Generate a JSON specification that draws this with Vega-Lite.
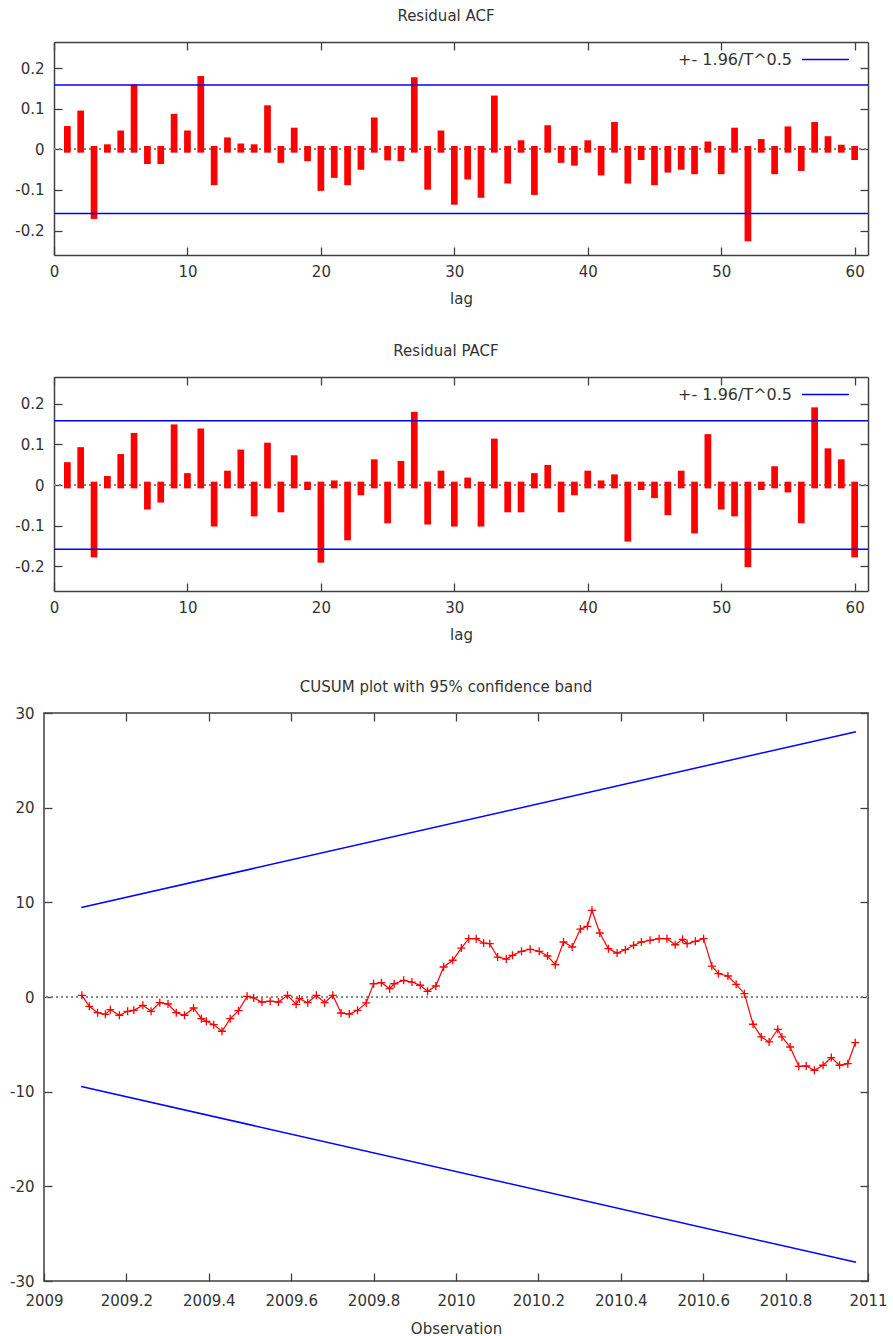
{
  "$schema": "https://vega.github.io/schema/vega-lite/v6.json",
  "background": "white",
  "padding": {"left": 8, "top": 9, "right": 0, "bottom": 0},
  "config": {
    "font": "DejaVu Sans",
    "view": {"stroke": "#404040", "strokeWidth": 1.5},
    "axis": {
      "grid": false, "domain": false,
      "domainColor": "#404040", "domainWidth": 1.5,
      "labelFont": "DejaVu Sans", "labelFontSize": 15, "labelColor": "#333",
      "titleFont": "DejaVu Sans", "titleFontSize": 15, "titleFontWeight": "normal", "titleColor": "#333",
      "tickColor": "#404040", "tickWidth": 1.3, "tickSize": -8,
      "labelPadding": 18, "titlePadding": 12,
      "labelFlush": false, "labelOverlap": false
    },
    "axisX": {"labelPadding": 17},
    "title": {"font": "DejaVu Sans", "fontSize": 15, "fontWeight": "normal", "color": "#333", "offset": 11, "baseline": "alphabetic", "dx": -10}
  },
  "datasets": {
    "corr": [
      {"lag": 1, "acf": 0.049, "pacf": 0.048},
      {"lag": 2, "acf": 0.087, "pacf": 0.085},
      {"lag": 3, "acf": -0.163, "pacf": -0.170},
      {"lag": 4, "acf": 0.004, "pacf": 0.014},
      {"lag": 5, "acf": 0.038, "pacf": 0.068},
      {"lag": 6, "acf": 0.151, "pacf": 0.120},
      {"lag": 7, "acf": -0.028, "pacf": -0.052},
      {"lag": 8, "acf": -0.028, "pacf": -0.035},
      {"lag": 9, "acf": 0.079, "pacf": 0.141},
      {"lag": 10, "acf": 0.038, "pacf": 0.021},
      {"lag": 11, "acf": 0.172, "pacf": 0.131},
      {"lag": 12, "acf": -0.080, "pacf": -0.094},
      {"lag": 13, "acf": 0.021, "pacf": 0.027},
      {"lag": 14, "acf": 0.006, "pacf": 0.079},
      {"lag": 15, "acf": 0.004, "pacf": -0.069},
      {"lag": 16, "acf": 0.100, "pacf": 0.096},
      {"lag": 17, "acf": -0.025, "pacf": -0.059},
      {"lag": 18, "acf": 0.045, "pacf": 0.065},
      {"lag": 19, "acf": -0.021, "pacf": -0.004},
      {"lag": 20, "acf": -0.094, "pacf": -0.183},
      {"lag": 21, "acf": -0.062, "pacf": 0.003},
      {"lag": 22, "acf": -0.080, "pacf": -0.128},
      {"lag": 23, "acf": -0.042, "pacf": -0.017},
      {"lag": 24, "acf": 0.070, "pacf": 0.055},
      {"lag": 25, "acf": -0.019, "pacf": -0.086},
      {"lag": 26, "acf": -0.021, "pacf": 0.051},
      {"lag": 27, "acf": 0.169, "pacf": 0.172},
      {"lag": 28, "acf": -0.091, "pacf": -0.089},
      {"lag": 29, "acf": 0.038, "pacf": 0.027},
      {"lag": 30, "acf": -0.128, "pacf": -0.094},
      {"lag": 31, "acf": -0.066, "pacf": 0.010},
      {"lag": 32, "acf": -0.111, "pacf": -0.094},
      {"lag": 33, "acf": 0.124, "pacf": 0.106},
      {"lag": 34, "acf": -0.076, "pacf": -0.059},
      {"lag": 35, "acf": 0.014, "pacf": -0.059},
      {"lag": 36, "acf": -0.104, "pacf": 0.021},
      {"lag": 37, "acf": 0.051, "pacf": 0.041},
      {"lag": 38, "acf": -0.025, "pacf": -0.059},
      {"lag": 39, "acf": -0.032, "pacf": -0.017},
      {"lag": 40, "acf": 0.014, "pacf": 0.027},
      {"lag": 41, "acf": -0.056, "pacf": 0.003},
      {"lag": 42, "acf": 0.059, "pacf": 0.018},
      {"lag": 43, "acf": -0.076, "pacf": -0.131},
      {"lag": 44, "acf": -0.018, "pacf": -0.004},
      {"lag": 45, "acf": -0.080, "pacf": -0.024},
      {"lag": 46, "acf": -0.049, "pacf": -0.066},
      {"lag": 47, "acf": -0.042, "pacf": 0.027},
      {"lag": 48, "acf": -0.053, "pacf": -0.111},
      {"lag": 49, "acf": 0.011, "pacf": 0.117},
      {"lag": 50, "acf": -0.053, "pacf": -0.052},
      {"lag": 51, "acf": 0.045, "pacf": -0.069},
      {"lag": 52, "acf": -0.218, "pacf": -0.194},
      {"lag": 53, "acf": 0.017, "pacf": -0.004},
      {"lag": 54, "acf": -0.053, "pacf": 0.038},
      {"lag": 55, "acf": 0.048, "pacf": -0.010},
      {"lag": 56, "acf": -0.045, "pacf": -0.086},
      {"lag": 57, "acf": 0.059, "pacf": 0.183},
      {"lag": 58, "acf": 0.024, "pacf": 0.082},
      {"lag": 59, "acf": 0.003, "pacf": 0.055},
      {"lag": 60, "acf": -0.018, "pacf": -0.170}
    ],
    "bands": [
      {"bound": 0.158, "label": "+- 1.96/T^0.5"},
      {"bound": -0.158, "label": "+- 1.96/T^0.5"}
    ],
    "cusumBand": [
      {"obs": 2009.0905, "side": "upper", "bound": 9.45},
      {"obs": 2010.971, "side": "upper", "bound": 28.03},
      {"obs": 2009.0905, "side": "lower", "bound": -9.45},
      {"obs": 2010.971, "side": "lower", "bound": -28.03}
    ],
    "cusum": [
      {"obs": 2009.092, "cusum": 0.18},
      {"obs": 2009.110, "cusum": -0.98},
      {"obs": 2009.130, "cusum": -1.66},
      {"obs": 2009.149, "cusum": -1.83},
      {"obs": 2009.161, "cusum": -1.34},
      {"obs": 2009.183, "cusum": -1.93},
      {"obs": 2009.203, "cusum": -1.51},
      {"obs": 2009.218, "cusum": -1.41},
      {"obs": 2009.240, "cusum": -0.88},
      {"obs": 2009.260, "cusum": -1.51},
      {"obs": 2009.281, "cusum": -0.60},
      {"obs": 2009.301, "cusum": -0.74},
      {"obs": 2009.321, "cusum": -1.66},
      {"obs": 2009.341, "cusum": -1.93},
      {"obs": 2009.363, "cusum": -1.16},
      {"obs": 2009.382, "cusum": -2.29},
      {"obs": 2009.394, "cusum": -2.57},
      {"obs": 2009.412, "cusum": -2.92},
      {"obs": 2009.432, "cusum": -3.62},
      {"obs": 2009.452, "cusum": -2.29},
      {"obs": 2009.472, "cusum": -1.44},
      {"obs": 2009.493, "cusum": 0.07},
      {"obs": 2009.509, "cusum": -0.10},
      {"obs": 2009.529, "cusum": -0.53},
      {"obs": 2009.549, "cusum": -0.45},
      {"obs": 2009.569, "cusum": -0.53},
      {"obs": 2009.591, "cusum": 0.18},
      {"obs": 2009.612, "cusum": -0.77},
      {"obs": 2009.620, "cusum": -0.18},
      {"obs": 2009.640, "cusum": -0.60},
      {"obs": 2009.661, "cusum": 0.18},
      {"obs": 2009.681, "cusum": -0.60},
      {"obs": 2009.701, "cusum": 0.18},
      {"obs": 2009.721, "cusum": -1.69},
      {"obs": 2009.741, "cusum": -1.80},
      {"obs": 2009.761, "cusum": -1.41},
      {"obs": 2009.782, "cusum": -0.63},
      {"obs": 2009.800, "cusum": 1.40},
      {"obs": 2009.819, "cusum": 1.51},
      {"obs": 2009.839, "cusum": 0.88},
      {"obs": 2009.850, "cusum": 1.40},
      {"obs": 2009.873, "cusum": 1.76},
      {"obs": 2009.893, "cusum": 1.58},
      {"obs": 2009.913, "cusum": 1.24},
      {"obs": 2009.931, "cusum": 0.60},
      {"obs": 2009.951, "cusum": 1.16},
      {"obs": 2009.970, "cusum": 3.17},
      {"obs": 2009.992, "cusum": 3.88},
      {"obs": 2010.013, "cusum": 5.17},
      {"obs": 2010.031, "cusum": 6.16},
      {"obs": 2010.049, "cusum": 6.16},
      {"obs": 2010.067, "cusum": 5.70},
      {"obs": 2010.082, "cusum": 5.63},
      {"obs": 2010.101, "cusum": 4.22},
      {"obs": 2010.122, "cusum": 4.01},
      {"obs": 2010.137, "cusum": 4.40},
      {"obs": 2010.159, "cusum": 4.83},
      {"obs": 2010.180, "cusum": 5.04},
      {"obs": 2010.202, "cusum": 4.83},
      {"obs": 2010.222, "cusum": 4.33},
      {"obs": 2010.241, "cusum": 3.41},
      {"obs": 2010.261, "cusum": 5.81},
      {"obs": 2010.282, "cusum": 5.28},
      {"obs": 2010.302, "cusum": 7.18},
      {"obs": 2010.319, "cusum": 7.47},
      {"obs": 2010.330, "cusum": 9.16},
      {"obs": 2010.349, "cusum": 6.76},
      {"obs": 2010.370, "cusum": 5.10},
      {"obs": 2010.391, "cusum": 4.65},
      {"obs": 2010.411, "cusum": 5.00},
      {"obs": 2010.431, "cusum": 5.46},
      {"obs": 2010.450, "cusum": 5.81},
      {"obs": 2010.471, "cusum": 5.99},
      {"obs": 2010.493, "cusum": 6.16},
      {"obs": 2010.512, "cusum": 6.16},
      {"obs": 2010.532, "cusum": 5.52},
      {"obs": 2010.550, "cusum": 6.09},
      {"obs": 2010.561, "cusum": 5.63},
      {"obs": 2010.581, "cusum": 5.88},
      {"obs": 2010.601, "cusum": 6.16},
      {"obs": 2010.621, "cusum": 3.27},
      {"obs": 2010.637, "cusum": 2.46},
      {"obs": 2010.660, "cusum": 2.22},
      {"obs": 2010.680, "cusum": 1.34},
      {"obs": 2010.700, "cusum": 0.35},
      {"obs": 2010.721, "cusum": -2.88},
      {"obs": 2010.741, "cusum": -4.22},
      {"obs": 2010.760, "cusum": -4.75},
      {"obs": 2010.781, "cusum": -3.41},
      {"obs": 2010.791, "cusum": -4.22},
      {"obs": 2010.811, "cusum": -5.28},
      {"obs": 2010.832, "cusum": -7.32},
      {"obs": 2010.850, "cusum": -7.29},
      {"obs": 2010.870, "cusum": -7.74},
      {"obs": 2010.891, "cusum": -7.21},
      {"obs": 2010.911, "cusum": -6.40},
      {"obs": 2010.931, "cusum": -7.21},
      {"obs": 2010.951, "cusum": -7.04},
      {"obs": 2010.969, "cusum": -4.83}
    ]
  },
  "columns": 1,
  "align": "each",
  "center": true,
  "bounds": "flush",
  "spacing": 122,
  "resolve": {"scale": {"color": "independent"}, "legend": {"color": "independent"}},
  "concat": [
    {
      "title": "Residual ACF",
      "width": 824,
      "height": 213,
      "view": {"stroke": null},
      "data": {"name": "corr"},
      "layer": [
        {
          "mark": {"type": "rule", "color": "#888888", "strokeDash": [1.5, 3.5], "strokeWidth": 1},
          "encoding": {"x": {"datum": 0, "type": "quantitative", "axis": null}, "x2": {"datum": 61}, "y": {"datum": 0, "type": "quantitative", "axis": null}}
        },
        {
          "mark": {"type": "rule", "color": "#ff0000", "strokeWidth": 6.7, "strokeCap": "square"},
          "encoding": {
            "x": {"field": "lag", "type": "quantitative", "scale": {"domain": [0, 61], "range": [10, 824], "nice": false, "zero": false},
                  "axis": {"orient": "bottom", "domain": true, "values": [0, 10, 20, 30, 40, 50, 60], "title": "lag", "labelExpr": "'' + datum.value"}},
            "y": {"field": "acf", "type": "quantitative", "scale": {"domain": [-0.26, 0.264], "nice": false, "zero": false},
                  "axis": {"orient": "left", "offset": -10, "domain": true, "values": [-0.2, -0.1, 0, 0.1, 0.2], "title": null, "labelExpr": "'' + datum.value"}},
            "y2": {"datum": 0}
          }
        },
        {
          "data": {"name": "bands"},
          "mark": {"type": "rule", "strokeWidth": 1.5},
          "encoding": {
            "x": {"datum": 0, "type": "quantitative", "axis": null},
            "x2": {"datum": 61},
            "y": {"field": "bound", "type": "quantitative", "axis": null},
            "color": {"field": "label", "type": "nominal", "scale": {"range": ["#0000ff"]},
                      "legend": {"title": null, "orient": "none", "legendX": 757, "legendY": -7, "padding": 0, "symbolType": "stroke", "symbolSize": 2209, "symbolStrokeWidth": 1.5, "labelFontSize": 16, "labelColor": "#333", "labelAlign": "right", "labelOffset": -58}}
          }
        },
        {
          "mark": {"type": "point", "opacity": 0},
          "encoding": {
            "x": {"field": "lag", "type": "quantitative", "axis": {"orient": "top", "domain": true, "values": [0, 10, 20, 30, 40, 50, 60], "labels": false, "title": null}},
            "y": {"field": "acf", "type": "quantitative", "axis": {"orient": "right", "domain": true, "values": [-0.2, -0.1, 0, 0.1, 0.2], "labels": false, "title": null}}
          }
        }
      ],
      "resolve": {"axis": {"x": "independent", "y": "independent"}}
    },
    {
      "title": "Residual PACF",
      "width": 824,
      "height": 214,
      "view": {"stroke": null},
      "data": {"name": "corr"},
      "layer": [
        {
          "mark": {"type": "rule", "color": "#888888", "strokeDash": [1.5, 3.5], "strokeWidth": 1},
          "encoding": {"x": {"datum": 0, "type": "quantitative", "axis": null}, "x2": {"datum": 61}, "y": {"datum": 0, "type": "quantitative", "axis": null}}
        },
        {
          "mark": {"type": "rule", "color": "#ff0000", "strokeWidth": 6.7, "strokeCap": "square"},
          "encoding": {
            "x": {"field": "lag", "type": "quantitative", "scale": {"domain": [0, 61], "range": [10, 824], "nice": false, "zero": false},
                  "axis": {"orient": "bottom", "domain": true, "values": [0, 10, 20, 30, 40, 50, 60], "title": "lag", "labelExpr": "'' + datum.value"}},
            "y": {"field": "pacf", "type": "quantitative", "scale": {"domain": [-0.261, 0.266], "nice": false, "zero": false},
                  "axis": {"orient": "left", "offset": -10, "domain": true, "values": [-0.2, -0.1, 0, 0.1, 0.2], "title": null, "labelExpr": "'' + datum.value"}},
            "y2": {"datum": 0}
          }
        },
        {
          "data": {"name": "bands"},
          "mark": {"type": "rule", "strokeWidth": 1.5},
          "encoding": {
            "x": {"datum": 0, "type": "quantitative", "axis": null},
            "x2": {"datum": 61},
            "y": {"field": "bound", "type": "quantitative", "axis": null},
            "color": {"field": "label", "type": "nominal", "scale": {"range": ["#0000ff"]},
                      "legend": {"title": null, "orient": "none", "legendX": 757, "legendY": -7, "padding": 0, "symbolType": "stroke", "symbolSize": 2209, "symbolStrokeWidth": 1.5, "labelFontSize": 16, "labelColor": "#333", "labelAlign": "right", "labelOffset": -58}}
          }
        },
        {
          "mark": {"type": "point", "opacity": 0},
          "encoding": {
            "x": {"field": "lag", "type": "quantitative", "axis": {"orient": "top", "domain": true, "values": [0, 10, 20, 30, 40, 50, 60], "labels": false, "title": null}},
            "y": {"field": "pacf", "type": "quantitative", "axis": {"orient": "right", "domain": true, "values": [-0.2, -0.1, 0, 0.1, 0.2], "labels": false, "title": null}}
          }
        }
      ],
      "resolve": {"axis": {"x": "independent", "y": "independent"}}
    },
    {
      "title": "CUSUM plot with 95% confidence band",
      "width": 824,
      "height": 568,
      "layer": [
        {
          "data": {"name": "cusum"},
          "mark": {"type": "rule", "color": "#888888", "strokeDash": [1.5, 3.5], "strokeWidth": 1},
          "encoding": {"y": {"datum": 0, "type": "quantitative", "axis": null}}
        },
        {
          "data": {"name": "cusumBand"},
          "mark": {"type": "line", "color": "#0000ff", "strokeWidth": 1.5},
          "encoding": {
            "x": {"field": "obs", "type": "quantitative", "scale": {"domain": [2009, 2011], "nice": false, "zero": false},
                  "axis": {"orient": "bottom", "values": [2009, 2009.2, 2009.4, 2009.6, 2009.8, 2010, 2010.2, 2010.4, 2010.6, 2010.8, 2011], "title": "Observation", "labelExpr": "'' + datum.value", "labelPadding": 20, "titlePadding": 13}},
            "y": {"field": "bound", "type": "quantitative", "scale": {"domain": [-30, 30], "nice": false, "zero": false},
                  "axis": {"orient": "left", "values": [-30, -20, -10, 0, 10, 20, 30], "title": null, "labelExpr": "'' + datum.value"}},
            "detail": {"field": "side", "type": "nominal"}
          }
        },
        {
          "data": {"name": "cusum"},
          "mark": {"type": "line", "color": "#ff0000", "strokeWidth": 1.2},
          "encoding": {
            "x": {"field": "obs", "type": "quantitative", "axis": null},
            "y": {"field": "cusum", "type": "quantitative", "axis": null}
          }
        },
        {
          "data": {"name": "cusum"},
          "mark": {"type": "point", "shape": "M-1,0H1M0,-1V1", "filled": false, "color": "#ff0000", "strokeWidth": 1.3, "size": 64, "opacity": 1},
          "encoding": {
            "x": {"field": "obs", "type": "quantitative", "axis": {"orient": "top", "values": [2009.2, 2009.4, 2009.6, 2009.8, 2010, 2010.2, 2010.4, 2010.6, 2010.8], "labels": false, "title": null}},
            "y": {"field": "cusum", "type": "quantitative", "axis": {"orient": "right", "values": [-30, -20, -10, 0, 10, 20, 30], "labels": false, "title": null}}
          }
        }
      ],
      "resolve": {"axis": {"x": "independent", "y": "independent"}}
    }
  ]
}
